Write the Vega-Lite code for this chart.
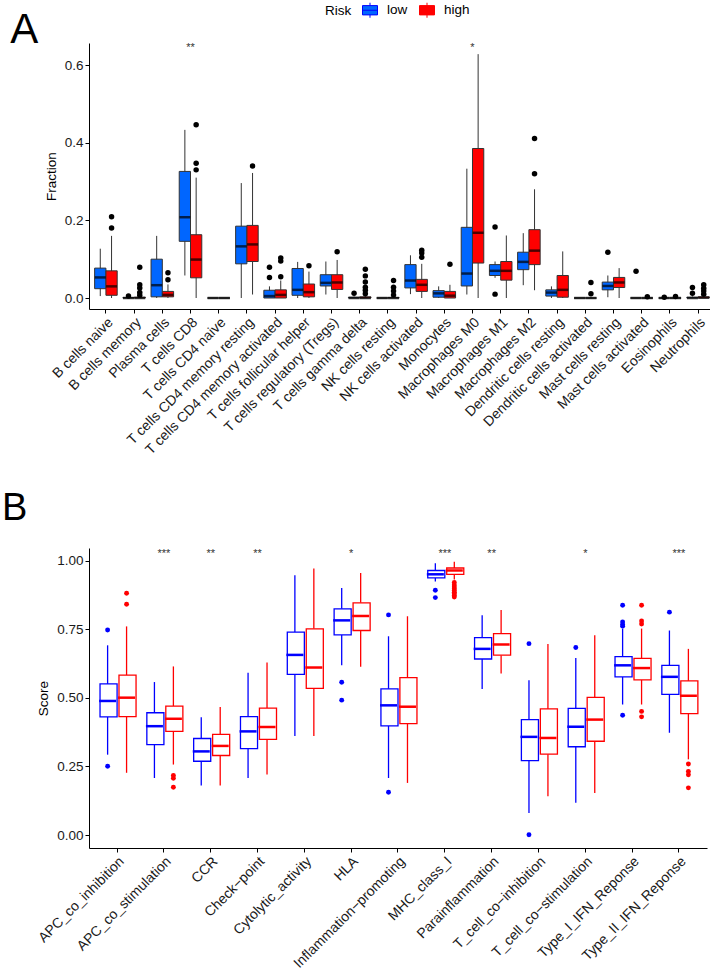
{
  "$schema": "https://vega.github.io/schema/vega-lite/v6.json",
  "padding": {"left": 2, "top": 2, "right": 0, "bottom": 0},
  "spacing": 33,
  "config": {
    "font": "Liberation Sans",
    "view": {"stroke": null},
    "axis": {"domainColor": "black", "tickColor": "black", "labelColor": "#1a1a1a", "labelFont": "Liberation Sans", "titleFont": "Liberation Sans", "labelFontSize": 13.5, "titleFontSize": 13.5, "titleFontWeight": "normal", "titleColor": "black", "grid": false, "tickSize": 4, "domainWidth": 1, "tickWidth": 1, "labelLimit": 400},
    "legend": {"labelFont": "Liberation Sans", "titleFont": "Liberation Sans", "labelFontSize": 13.5, "titleFontSize": 13.5, "titleFontWeight": "normal", "labelColor": "black", "titleColor": "black"}
  },
  "resolve": {"scale": {"x": "independent", "y": "independent", "xOffset": "independent"}},
  "datasets": {
    "cellsBox": [
      {"cell": "B cells naive", "Risk": "low", "lo": 0.005, "q1": 0.024, "med": 0.053, "q3": 0.077, "hi": 0.127},
      {"cell": "B cells naive", "Risk": "high", "lo": 0, "q1": 0.007, "med": 0.03, "q3": 0.07, "hi": 0.16},
      {"cell": "B cells memory", "Risk": "low", "lo": 0, "q1": 0, "med": 0, "q3": 0.001, "hi": 0.002},
      {"cell": "B cells memory", "Risk": "high", "lo": 0, "q1": 0, "med": 0, "q3": 0.002, "hi": 0.004},
      {"cell": "Plasma cells", "Risk": "low", "lo": 0, "q1": 0.003, "med": 0.033, "q3": 0.1, "hi": 0.16},
      {"cell": "Plasma cells", "Risk": "high", "lo": 0, "q1": 0.003, "med": 0.008, "q3": 0.017, "hi": 0.035},
      {"cell": "T cells CD8", "Risk": "low", "lo": 0.058, "q1": 0.146, "med": 0.208, "q3": 0.326, "hi": 0.433},
      {"cell": "T cells CD8", "Risk": "high", "lo": 0, "q1": 0.052, "med": 0.099, "q3": 0.163, "hi": 0.31},
      {"cell": "T cells CD4 naive", "Risk": "low", "lo": 0, "q1": 0, "med": 0, "q3": 0, "hi": 0},
      {"cell": "T cells CD4 naive", "Risk": "high", "lo": 0, "q1": 0, "med": 0, "q3": 0, "hi": 0},
      {"cell": "T cells CD4 memory resting", "Risk": "low", "lo": 0, "q1": 0.088, "med": 0.133, "q3": 0.185, "hi": 0.296},
      {"cell": "T cells CD4 memory resting", "Risk": "high", "lo": 0.009, "q1": 0.094, "med": 0.138, "q3": 0.187, "hi": 0.322},
      {"cell": "T cells CD4 memory activated", "Risk": "low", "lo": 0, "q1": 0, "med": 0.005, "q3": 0.02, "hi": 0.03},
      {"cell": "T cells CD4 memory activated", "Risk": "high", "lo": 0, "q1": 0, "med": 0.008, "q3": 0.021, "hi": 0.045},
      {"cell": "T cells follicular helper", "Risk": "low", "lo": 0, "q1": 0.007, "med": 0.021, "q3": 0.076, "hi": 0.093},
      {"cell": "T cells follicular helper", "Risk": "high", "lo": 0, "q1": 0.003, "med": 0.015, "q3": 0.036, "hi": 0.068},
      {"cell": "T cells regulatory (Tregs)", "Risk": "low", "lo": 0.009, "q1": 0.031, "med": 0.039, "q3": 0.06, "hi": 0.094},
      {"cell": "T cells regulatory (Tregs)", "Risk": "high", "lo": 0, "q1": 0.022, "med": 0.04, "q3": 0.06, "hi": 0.098},
      {"cell": "T cells gamma delta", "Risk": "low", "lo": 0, "q1": 0, "med": 0, "q3": 0.002, "hi": 0.004},
      {"cell": "T cells gamma delta", "Risk": "high", "lo": 0, "q1": 0, "med": 0, "q3": 0.003, "hi": 0.005},
      {"cell": "NK cells resting", "Risk": "low", "lo": 0, "q1": 0, "med": 0, "q3": 0, "hi": 0},
      {"cell": "NK cells resting", "Risk": "high", "lo": 0, "q1": 0, "med": 0, "q3": 0.001, "hi": 0.002},
      {"cell": "NK cells activated", "Risk": "low", "lo": 0.01, "q1": 0.026, "med": 0.045, "q3": 0.086, "hi": 0.11},
      {"cell": "NK cells activated", "Risk": "high", "lo": 0, "q1": 0.017, "med": 0.034, "q3": 0.048, "hi": 0.088},
      {"cell": "Monocytes", "Risk": "low", "lo": 0, "q1": 0.002, "med": 0.012, "q3": 0.019, "hi": 0.03},
      {"cell": "Monocytes", "Risk": "high", "lo": 0, "q1": 0, "med": 0.006, "q3": 0.017, "hi": 0.034},
      {"cell": "Macrophages M0", "Risk": "low", "lo": 0.009, "q1": 0.031, "med": 0.063, "q3": 0.182, "hi": 0.333},
      {"cell": "Macrophages M0", "Risk": "high", "lo": 0, "q1": 0.09, "med": 0.168, "q3": 0.385, "hi": 0.628},
      {"cell": "Macrophages M1", "Risk": "low", "lo": 0.052, "q1": 0.058, "med": 0.07, "q3": 0.086, "hi": 0.094},
      {"cell": "Macrophages M1", "Risk": "high", "lo": 0, "q1": 0.046, "med": 0.07, "q3": 0.094, "hi": 0.161},
      {"cell": "Macrophages M2", "Risk": "low", "lo": 0.033, "q1": 0.073, "med": 0.093, "q3": 0.118, "hi": 0.167},
      {"cell": "Macrophages M2", "Risk": "high", "lo": 0.02, "q1": 0.086, "med": 0.122, "q3": 0.176, "hi": 0.28},
      {"cell": "Dendritic cells resting", "Risk": "low", "lo": 0, "q1": 0.005, "med": 0.014, "q3": 0.021, "hi": 0.03},
      {"cell": "Dendritic cells resting", "Risk": "high", "lo": 0, "q1": 0.002, "med": 0.021, "q3": 0.058, "hi": 0.12},
      {"cell": "Dendritic cells activated", "Risk": "low", "lo": 0, "q1": 0, "med": 0, "q3": 0, "hi": 0},
      {"cell": "Dendritic cells activated", "Risk": "high", "lo": 0, "q1": 0, "med": 0, "q3": 0, "hi": 0.002},
      {"cell": "Mast cells resting", "Risk": "low", "lo": 0.002, "q1": 0.021, "med": 0.031, "q3": 0.041, "hi": 0.058},
      {"cell": "Mast cells resting", "Risk": "high", "lo": 0, "q1": 0.027, "med": 0.04, "q3": 0.053, "hi": 0.077},
      {"cell": "Mast cells activated", "Risk": "low", "lo": 0, "q1": 0, "med": 0, "q3": 0, "hi": 0},
      {"cell": "Mast cells activated", "Risk": "high", "lo": 0, "q1": 0, "med": 0, "q3": 0, "hi": 0},
      {"cell": "Eosinophils", "Risk": "low", "lo": 0, "q1": 0, "med": 0, "q3": 0, "hi": 0},
      {"cell": "Eosinophils", "Risk": "high", "lo": 0, "q1": 0, "med": 0, "q3": 0, "hi": 0},
      {"cell": "Neutrophils", "Risk": "low", "lo": 0, "q1": 0, "med": 0, "q3": 0.002, "hi": 0.004},
      {"cell": "Neutrophils", "Risk": "high", "lo": 0, "q1": 0, "med": 0.001, "q3": 0.003, "hi": 0.006}
    ],
    "cellsOut": [
      {"cell": "B cells naive", "Risk": "high", "v": 0.209},
      {"cell": "B cells naive", "Risk": "high", "v": 0.18},
      {"cell": "B cells memory", "Risk": "low", "v": 0.005},
      {"cell": "B cells memory", "Risk": "high", "v": 0.079},
      {"cell": "B cells memory", "Risk": "high", "v": 0.034},
      {"cell": "B cells memory", "Risk": "high", "v": 0.026},
      {"cell": "B cells memory", "Risk": "high", "v": 0.014},
      {"cell": "B cells memory", "Risk": "high", "v": 0.007},
      {"cell": "Plasma cells", "Risk": "high", "v": 0.065},
      {"cell": "Plasma cells", "Risk": "high", "v": 0.047},
      {"cell": "T cells CD8", "Risk": "high", "v": 0.446},
      {"cell": "T cells CD8", "Risk": "high", "v": 0.347},
      {"cell": "T cells CD8", "Risk": "high", "v": 0.33},
      {"cell": "T cells CD4 memory resting", "Risk": "high", "v": 0.34},
      {"cell": "T cells CD4 memory activated", "Risk": "low", "v": 0.079},
      {"cell": "T cells CD4 memory activated", "Risk": "low", "v": 0.053},
      {"cell": "T cells CD4 memory activated", "Risk": "high", "v": 0.103},
      {"cell": "T cells CD4 memory activated", "Risk": "high", "v": 0.095},
      {"cell": "T cells CD4 memory activated", "Risk": "high", "v": 0.055},
      {"cell": "T cells follicular helper", "Risk": "high", "v": 0.083},
      {"cell": "T cells regulatory (Tregs)", "Risk": "high", "v": 0.119},
      {"cell": "T cells gamma delta", "Risk": "low", "v": 0.012},
      {"cell": "T cells gamma delta", "Risk": "high", "v": 0.074},
      {"cell": "T cells gamma delta", "Risk": "high", "v": 0.057},
      {"cell": "T cells gamma delta", "Risk": "high", "v": 0.041},
      {"cell": "T cells gamma delta", "Risk": "high", "v": 0.028},
      {"cell": "T cells gamma delta", "Risk": "high", "v": 0.02},
      {"cell": "T cells gamma delta", "Risk": "high", "v": 0.011},
      {"cell": "NK cells resting", "Risk": "high", "v": 0.045},
      {"cell": "NK cells resting", "Risk": "high", "v": 0.028},
      {"cell": "NK cells resting", "Risk": "high", "v": 0.018},
      {"cell": "NK cells resting", "Risk": "high", "v": 0.008},
      {"cell": "NK cells activated", "Risk": "high", "v": 0.123},
      {"cell": "NK cells activated", "Risk": "high", "v": 0.116},
      {"cell": "NK cells activated", "Risk": "high", "v": 0.105},
      {"cell": "Monocytes", "Risk": "high", "v": 0.087},
      {"cell": "Macrophages M1", "Risk": "low", "v": 0.183},
      {"cell": "Macrophages M1", "Risk": "low", "v": 0.01},
      {"cell": "Macrophages M2", "Risk": "high", "v": 0.411},
      {"cell": "Macrophages M2", "Risk": "high", "v": 0.32},
      {"cell": "Dendritic cells activated", "Risk": "high", "v": 0.04},
      {"cell": "Dendritic cells activated", "Risk": "high", "v": 0.011},
      {"cell": "Mast cells resting", "Risk": "low", "v": 0.118},
      {"cell": "Mast cells activated", "Risk": "low", "v": 0.069},
      {"cell": "Mast cells activated", "Risk": "high", "v": 0.003},
      {"cell": "Eosinophils", "Risk": "low", "v": 0.002},
      {"cell": "Eosinophils", "Risk": "high", "v": 0.004},
      {"cell": "Neutrophils", "Risk": "low", "v": 0.027},
      {"cell": "Neutrophils", "Risk": "low", "v": 0.012},
      {"cell": "Neutrophils", "Risk": "high", "v": 0.034},
      {"cell": "Neutrophils", "Risk": "high", "v": 0.025},
      {"cell": "Neutrophils", "Risk": "high", "v": 0.018},
      {"cell": "Neutrophils", "Risk": "high", "v": 0.01}
    ],
    "sigA": [
      {"cell": "T cells CD8", "y": 0.645, "label": "**"},
      {"cell": "Macrophages M0", "y": 0.645, "label": "*"}
    ],
    "immBox": [
      {"sig": "APC_co_inhibition", "Risk": "low", "lo": 0.293, "q1": 0.431, "med": 0.489, "q3": 0.551, "hi": 0.692},
      {"sig": "APC_co_inhibition", "Risk": "high", "lo": 0.227, "q1": 0.432, "med": 0.501, "q3": 0.583, "hi": 0.761},
      {"sig": "APC_co_stimulation", "Risk": "low", "lo": 0.208, "q1": 0.33, "med": 0.397, "q3": 0.446, "hi": 0.558},
      {"sig": "APC_co_stimulation", "Risk": "high", "lo": 0.257, "q1": 0.378, "med": 0.424, "q3": 0.47, "hi": 0.615},
      {"sig": "CCR", "Risk": "low", "lo": 0.181, "q1": 0.269, "med": 0.305, "q3": 0.352, "hi": 0.43},
      {"sig": "CCR", "Risk": "high", "lo": 0.181, "q1": 0.29, "med": 0.325, "q3": 0.367, "hi": 0.467},
      {"sig": "Check−point", "Risk": "low", "lo": 0.208, "q1": 0.315, "med": 0.378, "q3": 0.432, "hi": 0.592},
      {"sig": "Check−point", "Risk": "high", "lo": 0.221, "q1": 0.349, "med": 0.394, "q3": 0.463, "hi": 0.629},
      {"sig": "Cytolytic_activity", "Risk": "low", "lo": 0.361, "q1": 0.586, "med": 0.657, "q3": 0.74, "hi": 0.948},
      {"sig": "Cytolytic_activity", "Risk": "high", "lo": 0.361, "q1": 0.535, "med": 0.611, "q3": 0.752, "hi": 0.972},
      {"sig": "HLA", "Risk": "low", "lo": 0.619, "q1": 0.73, "med": 0.783, "q3": 0.825, "hi": 0.901},
      {"sig": "HLA", "Risk": "high", "lo": 0.614, "q1": 0.746, "med": 0.799, "q3": 0.847, "hi": 0.956},
      {"sig": "Inflammation−promoting", "Risk": "low", "lo": 0.208, "q1": 0.398, "med": 0.473, "q3": 0.533, "hi": 0.725},
      {"sig": "Inflammation−promoting", "Risk": "high", "lo": 0.19, "q1": 0.406, "med": 0.468, "q3": 0.574, "hi": 0.798},
      {"sig": "MHC_class_I", "Risk": "low", "lo": 0.925, "q1": 0.938, "med": 0.951, "q3": 0.965, "hi": 0.991},
      {"sig": "MHC_class_I", "Risk": "high", "lo": 0.932, "q1": 0.951, "med": 0.965, "q3": 0.974, "hi": 0.997},
      {"sig": "Parainflammation", "Risk": "low", "lo": 0.533, "q1": 0.642, "med": 0.679, "q3": 0.72, "hi": 0.802},
      {"sig": "Parainflammation", "Risk": "high", "lo": 0.589, "q1": 0.656, "med": 0.695, "q3": 0.735, "hi": 0.821},
      {"sig": "T_cell_co−inhibition", "Risk": "low", "lo": 0.08, "q1": 0.271, "med": 0.358, "q3": 0.421, "hi": 0.565},
      {"sig": "T_cell_co−inhibition", "Risk": "high", "lo": 0.141, "q1": 0.295, "med": 0.354, "q3": 0.46, "hi": 0.697},
      {"sig": "T_cell_co−stimulation", "Risk": "low", "lo": 0.118, "q1": 0.322, "med": 0.395, "q3": 0.462, "hi": 0.646},
      {"sig": "T_cell_co−stimulation", "Risk": "high", "lo": 0.153, "q1": 0.342, "med": 0.421, "q3": 0.502, "hi": 0.729},
      {"sig": "Type_I_IFN_Reponse", "Risk": "low", "lo": 0.476, "q1": 0.577, "med": 0.619, "q3": 0.651, "hi": 0.753},
      {"sig": "Type_I_IFN_Reponse", "Risk": "high", "lo": 0.476, "q1": 0.566, "med": 0.609, "q3": 0.644, "hi": 0.753},
      {"sig": "Type_II_IFN_Reponse", "Risk": "low", "lo": 0.373, "q1": 0.513, "med": 0.577, "q3": 0.619, "hi": 0.746},
      {"sig": "Type_II_IFN_Reponse", "Risk": "high", "lo": 0.276, "q1": 0.443, "med": 0.508, "q3": 0.562, "hi": 0.679}
    ],
    "immOut": [
      {"sig": "APC_co_inhibition", "Risk": "low", "v": 0.748},
      {"sig": "APC_co_inhibition", "Risk": "low", "v": 0.251},
      {"sig": "APC_co_inhibition", "Risk": "high", "v": 0.882},
      {"sig": "APC_co_inhibition", "Risk": "high", "v": 0.842},
      {"sig": "APC_co_stimulation", "Risk": "high", "v": 0.217},
      {"sig": "APC_co_stimulation", "Risk": "high", "v": 0.207},
      {"sig": "APC_co_stimulation", "Risk": "high", "v": 0.174},
      {"sig": "HLA", "Risk": "low", "v": 0.557},
      {"sig": "HLA", "Risk": "low", "v": 0.492},
      {"sig": "Inflammation−promoting", "Risk": "low", "v": 0.803},
      {"sig": "Inflammation−promoting", "Risk": "low", "v": 0.156},
      {"sig": "MHC_class_I", "Risk": "low", "v": 0.893},
      {"sig": "MHC_class_I", "Risk": "low", "v": 0.866},
      {"sig": "MHC_class_I", "Risk": "high", "v": 0.921},
      {"sig": "MHC_class_I", "Risk": "high", "v": 0.912},
      {"sig": "MHC_class_I", "Risk": "high", "v": 0.905},
      {"sig": "MHC_class_I", "Risk": "high", "v": 0.898},
      {"sig": "MHC_class_I", "Risk": "high", "v": 0.892},
      {"sig": "MHC_class_I", "Risk": "high", "v": 0.886},
      {"sig": "MHC_class_I", "Risk": "high", "v": 0.88},
      {"sig": "MHC_class_I", "Risk": "high", "v": 0.874},
      {"sig": "MHC_class_I", "Risk": "high", "v": 0.868},
      {"sig": "T_cell_co−inhibition", "Risk": "low", "v": 0.698},
      {"sig": "T_cell_co−inhibition", "Risk": "low", "v": 0.001},
      {"sig": "T_cell_co−stimulation", "Risk": "low", "v": 0.684},
      {"sig": "Type_I_IFN_Reponse", "Risk": "low", "v": 0.838},
      {"sig": "Type_I_IFN_Reponse", "Risk": "low", "v": 0.777},
      {"sig": "Type_I_IFN_Reponse", "Risk": "low", "v": 0.768},
      {"sig": "Type_I_IFN_Reponse", "Risk": "low", "v": 0.762},
      {"sig": "Type_I_IFN_Reponse", "Risk": "low", "v": 0.437},
      {"sig": "Type_I_IFN_Reponse", "Risk": "high", "v": 0.838},
      {"sig": "Type_I_IFN_Reponse", "Risk": "high", "v": 0.781},
      {"sig": "Type_I_IFN_Reponse", "Risk": "high", "v": 0.77},
      {"sig": "Type_I_IFN_Reponse", "Risk": "high", "v": 0.451},
      {"sig": "Type_I_IFN_Reponse", "Risk": "high", "v": 0.431},
      {"sig": "Type_II_IFN_Reponse", "Risk": "low", "v": 0.813},
      {"sig": "Type_II_IFN_Reponse", "Risk": "high", "v": 0.259},
      {"sig": "Type_II_IFN_Reponse", "Risk": "high", "v": 0.232},
      {"sig": "Type_II_IFN_Reponse", "Risk": "high", "v": 0.22},
      {"sig": "Type_II_IFN_Reponse", "Risk": "high", "v": 0.172}
    ],
    "sigB": [
      {"sig": "APC_co_stimulation", "y": 1.025, "label": "***"},
      {"sig": "CCR", "y": 1.025, "label": "**"},
      {"sig": "Check−point", "y": 1.025, "label": "**"},
      {"sig": "HLA", "y": 1.025, "label": "*"},
      {"sig": "MHC_class_I", "y": 1.025, "label": "***"},
      {"sig": "Parainflammation", "y": 1.025, "label": "**"},
      {"sig": "T_cell_co−stimulation", "y": 1.025, "label": "*"},
      {"sig": "Type_II_IFN_Reponse", "y": 1.025, "label": "***"}
    ]
  },
  "vconcat": [
    {
      "width": 626,
      "height": 266,
      "title": {"text": "A", "orient": "left", "anchor": "end", "angle": 0, "align": "right", "baseline": "top", "fontSize": 42, "fontWeight": "normal", "font": "Liberation Sans", "color": "black", "dy": -32, "offset": -22},
      "encoding": {
        "x": {"field": "cell", "type": "nominal", "scale": {"domain": ["B cells naive", "B cells memory", "Plasma cells", "T cells CD8", "T cells CD4 naive", "T cells CD4 memory resting", "T cells CD4 memory activated", "T cells follicular helper", "T cells regulatory (Tregs)", "T cells gamma delta", "NK cells resting", "NK cells activated", "Monocytes", "Macrophages M0", "Macrophages M1", "Macrophages M2", "Dendritic cells resting", "Dendritic cells activated", "Mast cells resting", "Mast cells activated", "Eosinophils", "Neutrophils"], "paddingInner": 0.2, "paddingOuter": 0.2}, "axis": {"title": null, "labelAngle": -45, "labelAlign": "right", "labelBaseline": "top", "labelFontSize": 14, "labelPadding": 2}}
      },
      "layer": [
        {
          "data": {"name": "cellsBox"},
          "mark": {"type": "rule", "stroke": "#333333", "strokeWidth": 1},
          "encoding": {
            "xOffset": {"field": "Risk", "type": "nominal", "scale": {"domain": ["low", "high"], "paddingInner": 0, "paddingOuter": 0}},
            "y": {"field": "lo", "type": "quantitative", "scale": {"domain": [-0.0283, 0.6567], "nice": false, "zero": false}, "axis": {"title": "Fraction", "values": [0, 0.2, 0.4, 0.6], "format": ".1f", "titlePadding": 6}},
            "y2": {"field": "hi"}
          }
        },
        {
          "data": {"name": "cellsBox"},
          "mark": {"type": "bar", "stroke": "#333333", "strokeWidth": 1, "width": {"band": 1}, "opacity": 1},
          "encoding": {
            "xOffset": {"field": "Risk", "type": "nominal", "scale": {"domain": ["low", "high"]}},
            "y": {"field": "q1", "type": "quantitative"},
            "y2": {"field": "q3"},
            "fill": {"field": "Risk", "type": "nominal", "scale": {"domain": ["low", "high"], "range": ["#0066FF", "#FF0000"]}, "legend": {"orient": "none", "legendX": 236, "legendY": -41, "direction": "horizontal", "titleOrient": "left", "title": "Risk", "symbolType": "M-1,-0.62H1V0.62H-1Z M-1,0H1 M0,-0.62V-1 M0,0.62V1", "symbolSize": 225, "symbolStrokeColor": "#333333", "symbolStrokeWidth": 1, "columnPadding": 9, "labelOffset": 9, "titlePadding": 10}}
          }
        },
        {
          "data": {"name": "cellsBox"},
          "mark": {"type": "tick", "color": "black", "thickness": 2.5, "size": 11},
          "encoding": {
            "xOffset": {"field": "Risk", "type": "nominal", "scale": {"domain": ["low", "high"]}},
            "y": {"field": "med", "type": "quantitative"}
          }
        },
        {
          "data": {"name": "cellsOut"},
          "mark": {"type": "point", "filled": true, "color": "black", "size": 30, "opacity": 1},
          "encoding": {
            "xOffset": {"field": "Risk", "type": "nominal", "scale": {"domain": ["low", "high"]}},
            "y": {"field": "v", "type": "quantitative"}
          }
        },
        {
          "data": {"name": "sigA"},
          "mark": {"type": "text", "fontSize": 11, "color": "#333333", "baseline": "middle"},
          "encoding": {
            "y": {"field": "y", "type": "quantitative"},
            "text": {"field": "label"}
          }
        }
      ]
    },
    {
      "width": 618,
      "height": 300,
      "title": {"text": "B", "orient": "left", "anchor": "end", "angle": 0, "align": "right", "baseline": "top", "fontSize": 38, "fontWeight": "normal", "font": "Liberation Sans", "color": "black", "dy": -58, "offset": -17},
      "encoding": {
        "x": {"field": "sig", "type": "nominal", "scale": {"domain": ["APC_co_inhibition", "APC_co_stimulation", "CCR", "Check−point", "Cytolytic_activity", "HLA", "Inflammation−promoting", "MHC_class_I", "Parainflammation", "T_cell_co−inhibition", "T_cell_co−stimulation", "Type_I_IFN_Reponse", "Type_II_IFN_Reponse"], "paddingInner": 0.19, "paddingOuter": 0.195}, "axis": {"title": null, "labelAngle": -45, "labelAlign": "right", "labelBaseline": "top", "labelFontSize": 14, "labelPadding": 2}}
      },
      "layer": [
        {
          "data": {"name": "immBox"},
          "mark": {"type": "rule", "strokeWidth": 1.3},
          "encoding": {
            "xOffset": {"field": "Risk", "type": "nominal", "scale": {"domain": ["low", "high"], "paddingInner": 0, "paddingOuter": 0}},
            "y": {"field": "lo", "type": "quantitative", "scale": {"domain": [-0.0474, 1.047], "nice": false, "zero": false}, "axis": {"title": "Score", "values": [0, 0.25, 0.5, 0.75, 1], "format": ".2f", "titlePadding": 6}},
            "y2": {"field": "q1"},
            "stroke": {"field": "Risk", "type": "nominal", "scale": {"domain": ["low", "high"], "range": ["#0000FF", "#FF0000"]}, "legend": {"orient": "none", "legendX": 236, "legendY": -47, "direction": "horizontal", "titleOrient": "left", "title": "Risk", "symbolType": "M-1,-0.62H1V0.62H-1Z M-1,0H1 M0,-0.62V-1 M0,0.62V1", "symbolSize": 225, "symbolFillColor": "white", "symbolStrokeWidth": 1.3, "columnPadding": 9, "labelOffset": 9, "titlePadding": 10}}
          }
        },
        {
          "data": {"name": "immBox"},
          "mark": {"type": "rule", "strokeWidth": 1.3},
          "encoding": {
            "xOffset": {"field": "Risk", "type": "nominal"},
            "y": {"field": "q3", "type": "quantitative"},
            "y2": {"field": "hi"},
            "stroke": {"field": "Risk", "type": "nominal"}
          }
        },
        {
          "data": {"name": "immBox"},
          "mark": {"type": "bar", "fill": "white", "strokeWidth": 1.3, "width": {"band": 0.9}, "opacity": 1},
          "encoding": {
            "xOffset": {"field": "Risk", "type": "nominal"},
            "y": {"field": "q1", "type": "quantitative"},
            "y2": {"field": "q3"},
            "stroke": {"field": "Risk", "type": "nominal"}
          }
        },
        {
          "data": {"name": "immBox"},
          "mark": {"type": "tick", "thickness": 2.5, "size": 17, "opacity": 1},
          "encoding": {
            "xOffset": {"field": "Risk", "type": "nominal"},
            "y": {"field": "med", "type": "quantitative"},
            "color": {"field": "Risk", "type": "nominal", "scale": {"domain": ["low", "high"], "range": ["#0000FF", "#FF0000"]}, "legend": null}
          }
        },
        {
          "data": {"name": "immOut"},
          "mark": {"type": "point", "filled": true, "size": 24, "opacity": 1},
          "encoding": {
            "xOffset": {"field": "Risk", "type": "nominal"},
            "y": {"field": "v", "type": "quantitative"},
            "color": {"field": "Risk", "type": "nominal", "legend": null}
          }
        },
        {
          "data": {"name": "sigB"},
          "mark": {"type": "text", "fontSize": 11, "color": "#333333", "baseline": "middle"},
          "encoding": {
            "y": {"field": "y", "type": "quantitative"},
            "text": {"field": "label"}
          }
        }
      ]
    }
  ]
}
